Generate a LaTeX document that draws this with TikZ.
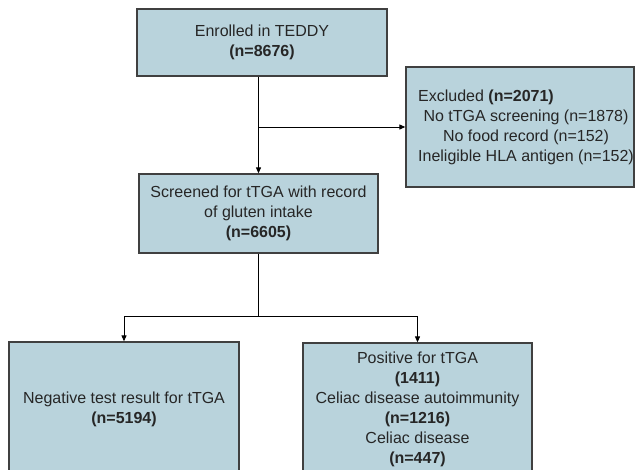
\documentclass[tikz,border=0pt]{standalone}
\usepackage{fontspec}
\setmainfont{Liberation Sans}
\usetikzlibrary{arrows.meta}
\definecolor{boxfill}{RGB}{185,211,220}
\definecolor{boxline}{RGB}{64,64,64}
\definecolor{txt}{RGB}{38,38,38}
\begin{document}
\begin{tikzpicture}[x=1pt,y=-1pt,
  box/.style={draw=boxline, line width=1.3pt, fill=boxfill, inner sep=0pt, align=center, text=txt, font=\fontsize{16}{20}\selectfont, anchor=center},
  lbl/.style={text=txt, font=\fontsize{16}{20}\selectfont, inner sep=0pt, anchor=center},
  conn/.style={line width=1pt, black},
  arr/.style={conn, -{Triangle[length=6pt,width=5pt]}}]
\useasboundingbox (0,0) rectangle (636,469);
\node[box, minimum width=250pt, minimum height=67pt] (b1) at (262,42.5) {Enrolled in TEDDY\\\textbf{(n=8676)}};
\node[box, minimum width=239pt, minimum height=79pt] (b2) at (258.5,213.5) {Screened for tTGA with record\\of gluten intake\\\textbf{(n=6605)}};
\node[box, minimum width=228pt, minimum height=120pt] (b3) at (520,127) {};
\node[lbl] (b3t) at (526,127) {\begin{tabular}{@{}c@{}}\multicolumn{1}{@{}l@{}}{Excluded \textbf{(n=2071)}}\\No tTGA screening (n=1878)\\No food record (n=152)\\Ineligible HLA antigen (n=152)\end{tabular}};
\node[box, minimum width=230pt, minimum height=134pt] (b4) at (124,409) {Negative test result for tTGA\\\textbf{(n=5194)}};
\node[box, minimum width=229pt, minimum height=132pt] (b5) at (417.5,409) {Positive for tTGA\\\textbf{(1411)}\\Celiac disease autoimmunity\\\textbf{(n=1216)}\\Celiac disease\\\textbf{(n=447)}};
\coordinate (j1) at (b2.north |- b3.west);
\coordinate (j2) at (258.5,316);
\draw[arr] (b2.north |- b1.south) -- (b2.north);
\draw[arr] (j1) -- (b3.west);
\draw[conn] (b2.south) -- (j2);
\draw[arr] (j2) -| (b4.north);
\draw[arr] (j2) -| (b5.north);
\end{tikzpicture}
\end{document}
